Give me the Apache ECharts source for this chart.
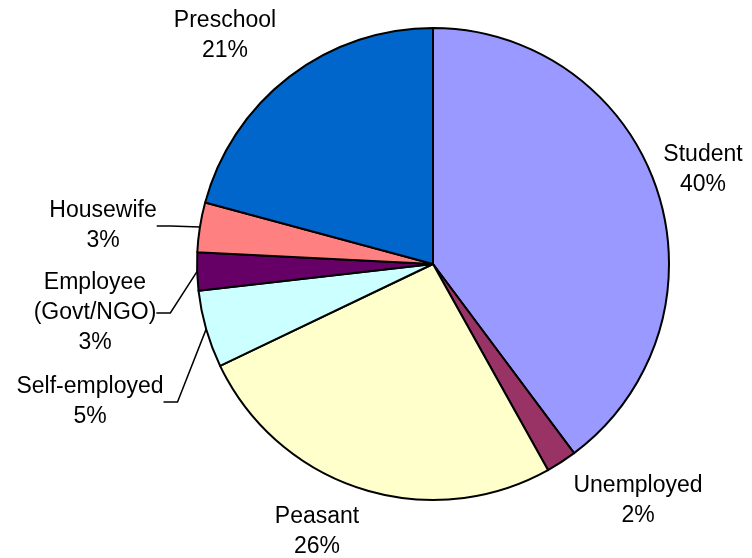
<!DOCTYPE html>
<html>
<head>
<meta charset="utf-8">
<script src="https://cdn.jsdelivr.net/npm/echarts@6/dist/echarts.min.js"></script>
<style>
  html, body { margin: 0; padding: 0; background: #fff; }
  #chart { width: 752px; height: 558px; }
</style>
</head>
<body>
<div id="chart"></div>
<script>
// slices clockwise from 12 o'clock
let categories = ['Student', 'Unemployed', 'Peasant', 'Self-employed', 'Employee\n(Govt/NGO)', 'Housewife', 'Preschool']
let shares = [39.8, 2.1, 26.0, 5.3, 2.6, 3.4, 20.8]
let sliceColors = ['#9999FF', '#993366', '#FFFFCC', '#CCFFFF', '#660066', '#FF8080', '#0066CC']

// where each label sits (centre of text block) and whether it gets a leader line
let labelSpots = [
  [703, 170], [638, 501], [317, 532], [90, 402], [95, 313], [103, 226], [225, 36]
]
let withLeader = [false, false, false, true, true, true, false]

let total = shares.reduce((a, b) => a + b, 0)

let chart = echarts.init(document.getElementById('chart'))

chart.setOption({
  animation: false,
  series: [{
    type: 'pie',
    center: [433, 264],
    radius: 236,
    startAngle: 90,
    clockwise: true,
    data: categories.map((name, i) => ({
      name: name,
      value: shares[i],
      itemStyle: { color: sliceColors[i] },
      labelLine: { show: withLeader[i] }
    })),
    itemStyle: { borderColor: '#000', borderWidth: 2 },
    emphasis: { disabled: true },
    label: {
      show: true,
      position: 'outside',
      overflow: 'none',
      edgeDistance: 0,
      bleedMargin: 0,
      color: '#000',
      fontFamily: 'Liberation Sans, Arial, sans-serif',
      fontSize: 23,
      lineHeight: 30,
      align: 'center',
      formatter: (p) => `${p.name}\n${Math.round(p.value / total * 100)}%`
    },
    labelLine: {
      lineStyle: { color: '#000', width: 1.5 },
      length: 6,
      length2: 14
    },
    labelLayout: (params) => {
      let spot = labelSpots[params.dataIndex]
      return { x: spot[0], y: spot[1], align: 'center', verticalAlign: 'middle' }
    }
  }]
})
</script>
</body>
</html>
